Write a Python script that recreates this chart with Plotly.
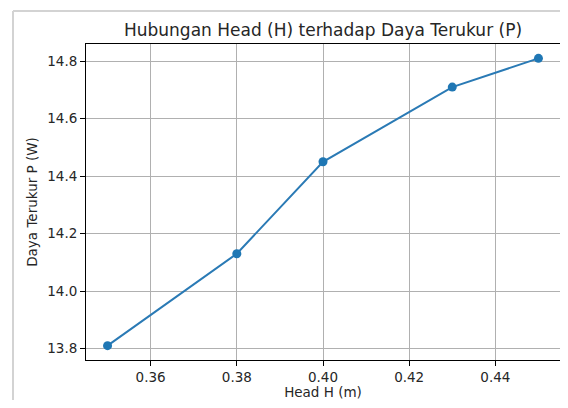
import plotly.graph_objects as go

head = [0.35, 0.38, 0.40, 0.43, 0.45]
daya = [13.81, 14.13, 14.45, 14.71, 14.81]
x_ticks = [0.36, 0.38, 0.40, 0.42, 0.44]
y_ticks = [13.8, 14.0, 14.2, 14.4, 14.6, 14.8]

# page has an 8px body margin, so the figure starts at (8, 8)
OFF = 8
W, H = 568 - 2 * OFF, 408 - 2 * OFF
L, T = 86 - OFF, 44 - OFF
R = W - (560 - OFF)
B = H - (360 - OFF)
pw, ph = W - L - R, H - T - B

fig = go.Figure()
fig.add_trace(go.Scatter(
    x=head, y=daya, mode="lines+markers",
    line=dict(color="#2a7ab5", width=2),
    marker=dict(color="#1f77b4", size=9),
))

def px(x):
    return (x - OFF - L) / pw

def py(y):
    return (H - B - (y - OFF)) / ph

fig.add_shape(type="line", xref="paper", yref="paper",
              x0=px(13), x1=px(570), y0=py(11), y1=py(11),
              line=dict(color="#d3d3d3", width=2))
fig.add_shape(type="line", xref="paper", yref="paper",
              x0=px(13), x1=px(13), y0=py(11), y1=py(410),
              line=dict(color="#d3d3d3", width=2))

fig.update_layout(
    width=W, height=H,
    margin=dict(l=L, r=R, t=T, b=B, autoexpand=False),
    paper_bgcolor="white", plot_bgcolor="white",
    font=dict(family="DejaVu Sans", size=13.5, color="#262626"),
    showlegend=False,
    title=dict(text="Hubungan Head (H) terhadap Daya Terukur (P)",
               x=(L + pw / 2) / W, xanchor="center",
               y=1 - (30 - OFF) / H, yanchor="middle",
               font=dict(size=17, color="#262626")),
    xaxis=dict(range=[0.345, 0.455], tickvals=x_ticks,
               ticktext=[f"{v:.2f}" for v in x_ticks], automargin=False,
               showgrid=True, gridcolor="#b0b0b0", gridwidth=1,
               showline=True, linecolor="black", linewidth=1, mirror=True,
               ticks="outside", ticklen=5, tickcolor="black", zeroline=False,
               title=dict(text="Head H (m)", standoff=9,
                          font=dict(size=13.5, color="#262626"))),
    yaxis=dict(range=[13.76, 14.86], tickvals=y_ticks,
               ticktext=[f"{v:.1f}" for v in y_ticks], automargin=False,
               showgrid=True, gridcolor="#b0b0b0", gridwidth=1,
               showline=True, linecolor="black", linewidth=1, mirror=True,
               ticks="outside", ticklen=5, tickcolor="black", zeroline=False,
               title=dict(text="Daya Terukur P (W)", standoff=6,
                          font=dict(size=13.5, color="#262626"))),
)

fig.write_html("out.html")
